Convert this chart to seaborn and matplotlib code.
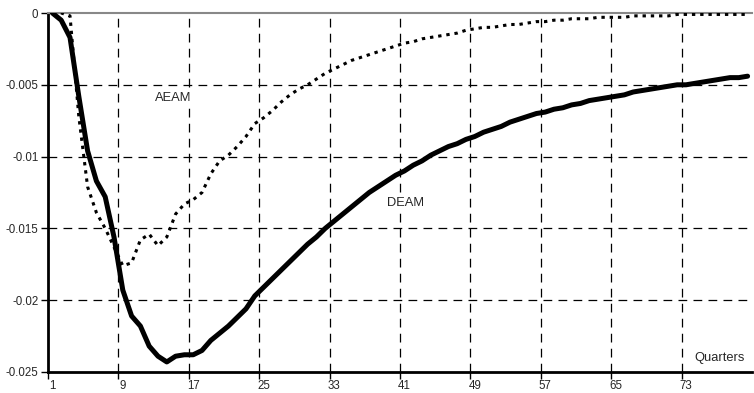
import numpy as np
import pandas as pd
import matplotlib
matplotlib.use("Agg")
import matplotlib.pyplot as plt
import seaborn as sns

quarters = list(range(1, 81))
deam = [0, -0.0005, -0.0017, -0.0058, -0.0096, -0.0117, -0.0128, -0.0156, -0.0193, -0.0211,
        -0.0218, -0.0232, -0.0239, -0.0243, -0.0239, -0.0238, -0.0238, -0.0235, -0.0228, -0.0223,
        -0.0218, -0.0212, -0.0206, -0.0197, -0.0191, -0.0185, -0.0179, -0.0173, -0.0167, -0.0161,
        -0.0156, -0.0150, -0.0145, -0.0140, -0.0135, -0.0130, -0.0125, -0.0121, -0.0117, -0.0113,
        -0.0110, -0.0106, -0.0103, -0.0099, -0.0096, -0.0093, -0.0091, -0.0088, -0.0086, -0.0083,
        -0.0081, -0.0079, -0.0076, -0.0074, -0.0072, -0.0070, -0.0069, -0.0067, -0.0066, -0.0064,
        -0.0063, -0.0061, -0.0060, -0.0059, -0.0058, -0.0057, -0.0055, -0.0054, -0.0053, -0.0052,
        -0.0051, -0.0050, -0.0050, -0.0049, -0.0048, -0.0047, -0.0046, -0.0045, -0.0045, -0.0044]
aeam = [0, 0, -0.0002, -0.0072, -0.0121, -0.0139, -0.0150, -0.0163, -0.0176, -0.0174,
        -0.0158, -0.0154, -0.0162, -0.0156, -0.0140, -0.0133, -0.0130, -0.0125, -0.0112, -0.0103,
        -0.0099, -0.0093, -0.0086, -0.0077, -0.0073, -0.0068, -0.0062, -0.0057, -0.0053, -0.0050,
        -0.0046, -0.0042, -0.0039, -0.0036, -0.0033, -0.0031, -0.0029, -0.0027, -0.0025, -0.0023,
        -0.0021, -0.0020, -0.0018, -0.0017, -0.0016, -0.0015, -0.0014, -0.0012, -0.0011, -0.0010,
        -0.0010, -0.0009, -0.0008, -0.0008, -0.0007, -0.0006, -0.0006, -0.0005, -0.0005, -0.0004,
        -0.0004, -0.0004, -0.0003, -0.0003, -0.0003, -0.0003, -0.0002, -0.0002, -0.0002, -0.0002,
        -0.0002, -0.0001, -0.0001, -0.0001, -0.0001, -0.0001, -0.0001, -0.0001, -0.0001, -0.0001]
x_labels = ["1", "9", "17", "25", "33", "41", "49", "57", "65", "73"]
y_ticks = [0, -0.005, -0.01, -0.015, -0.02, -0.025]
y_labels = ["0", "-0.005", "-0.01", "-0.015", "-0.02", "-0.025"]

sns.set_style("white")
plt.rcParams['font.family'] = ['Liberation Sans', 'DejaVu Sans']

df = pd.DataFrame({"Quarter": quarters * 2,
                   "value": deam + aeam,
                   "series": ["DEAM"] * 80 + ["AEAM"] * 80})

W, H = 754, 393
fig = plt.figure(figsize=(W / 100, H / 100), dpi=100)
ax = fig.add_axes([48 / W, 1 - 372 / H, (752 - 48) / W, (372 - 13) / H])

sns.lineplot(data=df[df.series == "DEAM"], x="Quarter", y="value", ax=ax,
             color="black", linewidth=3.6, legend=False, zorder=4)
sns.lineplot(data=df[df.series == "AEAM"], x="Quarter", y="value", ax=ax,
             color="black", linewidth=2.2, linestyle=(0, (1.1, 1.6)), legend=False, zorder=3)

ax.set_xlim(0.5, 80.5)
ax.set_ylim(-0.025, 0)

# gridlines at category boundaries, labels at category centers
grid_pos = [8.5 + 8 * i for i in range(9)]
ax.set_xticks([0.5] + grid_pos)
ax.set_xticklabels([])
ax.set_xticks([1 + 8 * i for i in range(10)], minor=True)
ax.set_xticklabels(x_labels, minor=True)
ax.tick_params(axis="x", which="major", direction="out", length=5, width=1, color="black", bottom=True)
ax.tick_params(axis="x", which="minor", length=0, pad=6, labelsize=8.3)

ax.set_yticks(y_ticks)
ax.set_yticklabels(y_labels)
ax.tick_params(axis="y", direction="out", length=5, width=1, color="black", left=True, labelsize=8.3, pad=2)

for gx in grid_pos:
    ax.axvline(gx, color="black", linewidth=0.9, linestyle=(0, (7, 5)), zorder=1)
for gy in y_ticks[1:-1]:
    ax.axhline(gy, color="black", linewidth=0.9, linestyle=(0, (7, 5)), zorder=1)

ax.set_xlabel("")
ax.set_ylabel("")

ax.spines["left"].set_color("black")
ax.spines["left"].set_linewidth(2)
ax.spines["bottom"].set_color("black")
ax.spines["bottom"].set_linewidth(2)
ax.spines["top"].set_color("#888888")
ax.spines["top"].set_linewidth(1.5)
ax.spines["right"].set_visible(False)

box = dict(facecolor="white", edgecolor="none", pad=1.5)
ax.text(14.7, -0.0059, "AEAM", fontsize=9.3, ha="center", va="center", bbox=box, zorder=2)
ax.text(41.1, -0.0132, "DEAM", fontsize=9.3, ha="center", va="center", bbox=box, zorder=2)
ax.text(79.7, -0.0240, "Quarters", fontsize=9.3, ha="right", va="center", bbox=box, zorder=2)

fig.savefig("out.png", dpi=100)
